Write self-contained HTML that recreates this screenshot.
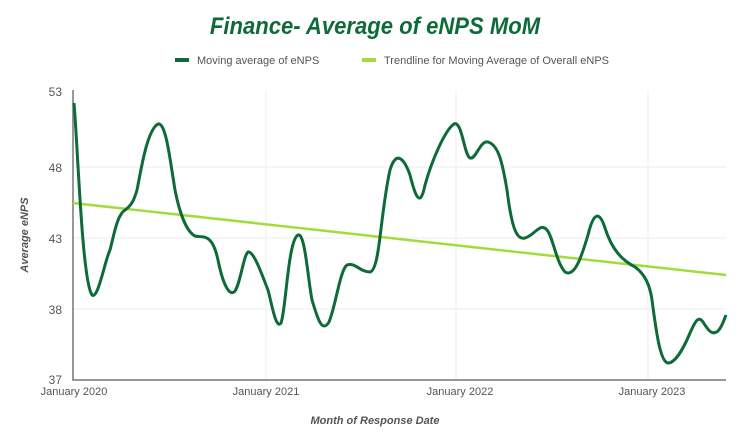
<!DOCTYPE html>
<html><head><meta charset="utf-8"><style>
body{margin:0;background:#fff;width:750px;height:441px;overflow:hidden;font-family:"Liberation Sans",sans-serif}
</style></head><body>
<svg width="750" height="441" viewBox="0 0 750 441" font-family="Liberation Sans, sans-serif">
<text x="375" y="34" text-anchor="middle" font-size="24" font-weight="bold" font-style="italic" fill="#0e6b38" transform="translate(375 0) scale(0.92 1) translate(-375 0)">Finance- Average of eNPS MoM</text>
<rect x="175" y="58" width="14" height="4" fill="#0e6b38"/>
<text x="197" y="64" font-size="11" fill="#555">Moving average of eNPS</text>
<rect x="362" y="58" width="14" height="4" fill="#a2dc3c"/>
<text x="384" y="64" font-size="11" fill="#555">Trendline for Moving Average of Overall eNPS</text>
<g stroke="#ececec" stroke-width="1">
<line x1="266" y1="91" x2="266" y2="380"/><line x1="456" y1="91" x2="456" y2="380"/><line x1="648" y1="91" x2="648" y2="380"/>
<line x1="73" y1="167" x2="726" y2="167"/><line x1="73" y1="238" x2="726" y2="238"/><line x1="73" y1="309" x2="726" y2="309"/>
</g>
<polyline points="73,90 73,380 726,380" fill="none" stroke="#777" stroke-width="1.5"/>
<g font-size="12" fill="#555" text-anchor="end">
<text x="62" y="96">53</text><text x="62" y="172">48</text><text x="62" y="243">43</text><text x="62" y="314">38</text><text x="62" y="384">37</text>
</g>
<g font-size="11" fill="#555" text-anchor="middle">
<text x="74" y="395">January 2020</text><text x="266" y="395">January 2021</text><text x="460" y="395">January 2022</text><text x="652" y="395">January 2023</text>
</g>
<text x="375" y="424" text-anchor="middle" font-size="11" font-weight="bold" font-style="italic" fill="#555">Month of Response Date</text>
<text transform="translate(28 235) rotate(-90)" text-anchor="middle" font-size="11" font-weight="bold" font-style="italic" fill="#555">Average eNPS</text>
<line x1="73" y1="203" x2="726" y2="275" stroke="#a2dc3c" stroke-width="2.5"/>
<path fill="none" stroke="#0e6b38" stroke-width="3" stroke-linejoin="round" d="M74,103 C78,150 82,280 92,295 C98,300 105,260 110,250 C114,235 117,215 125,210 C132,205 134,200 137,190 C141,170 147,130 158,124 C166,122 170,160 175,190 C180,215 187,232 195,236 C203,238 212,232 218,260 C222,280 228,296 234,292 C240,288 244,250 249,252 C255,254 262,275 268,290 C272,305 276,330 281,323 C286,310 288,240 298,235 C305,232 308,280 312,300 C318,320 322,333 329,322 C336,305 340,270 347,265 C355,262 360,272 370,272 C380,270 380,215 390,170 C396,150 404,158 410,175 C415,195 420,210 425,185 C432,160 445,130 454,124 C462,120 464,155 470,158 C476,160 480,140 488,142 C498,145 502,160 507,190 C512,230 517,240 525,238 C535,235 540,222 547,230 C553,237 556,262 565,272 C575,278 582,255 588,235 C594,210 600,212 605,228 C612,250 622,260 635,267 C645,274 650,285 652,300 C656,330 660,362 668,363 C676,363 685,345 690,333 C695,322 698,315 703,322 C708,330 712,336 718,331 C722,327 724,320 726,315"/>
</svg>
</body></html>
